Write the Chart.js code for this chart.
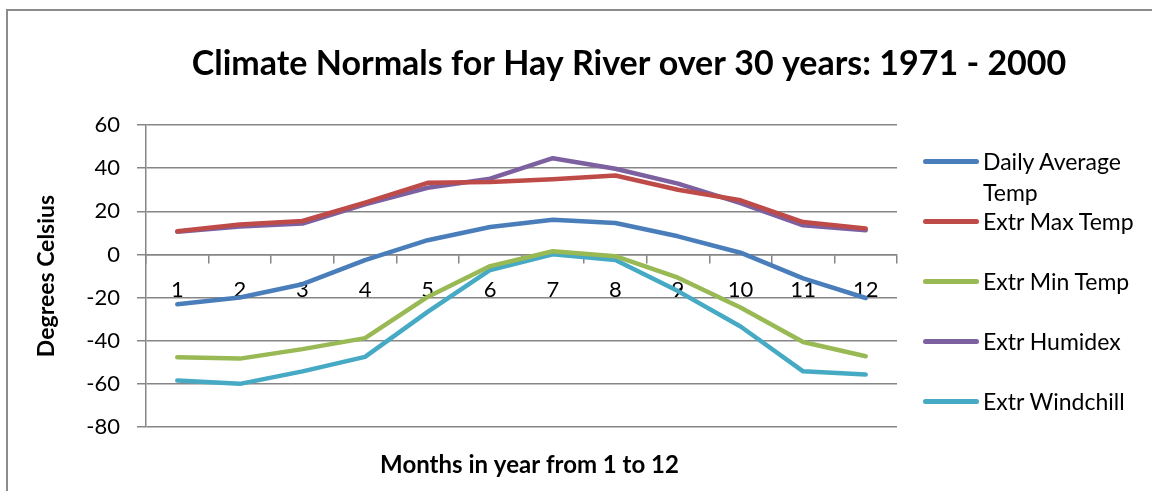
<!DOCTYPE html>
<html>
<head>
<meta charset="utf-8">
<script src="https://cdn.jsdelivr.net/npm/chart.js@4.4.1/dist/chart.umd.min.js"></script>
<style>
    body { margin: 0; background: #fff; }
    #wrap { position: relative; width: 1152px; height: 491px; overflow: hidden; }
    #frame { position: absolute; left: 6px; top: 9px; width: 1200px; height: 600px;
             border-top: 2px solid #8c8c8c; border-left: 2px solid #8c8c8c; }
    #grafica { position: absolute; left: 0; top: 0; }
    #leyenda { position: absolute; left: 923px; top: 146px; font-family: Lato, sans-serif; font-size: 23px; color: #000; }
    .item { position: relative; height: 60px; }
    .item .muestra { position: absolute; left: 0; top: 13px; width: 56px; height: 5px; border-radius: 3px; }
    .item .texto { position: absolute; left: 60px; top: 0; width: 168px; line-height: 31px; }
</style>
</head>
<body>
<div id="wrap">
    <div id="frame"></div>
    <canvas id="grafica" width="1152" height="491"></canvas>
    <div id="leyenda"></div>
</div>
<script>
//Datos del gráfico
const meses = ['1', '2', '3', '4', '5', '6', '7', '8', '9', '10', '11', '12'];
const promedioDiario = [-23.1, -20.0, -13.8, -2.6, 6.6, 12.7, 16.1, 14.6, 8.4, 0.8, -11.1, -20.2];
const maxExtrema = [10.7, 13.9, 15.5, 24.0, 33.2, 33.6, 34.9, 36.6, 30.0, 25.1, 15.0, 12.0];
const minExtrema = [-47.7, -48.3, -43.9, -38.8, -19.7, -5.4, 1.5, -0.8, -10.8, -24.6, -40.6, -47.2];
const humidex = [10.5, 13.0, 14.3, 23.2, 30.9, 35.1, 44.6, 39.7, 32.8, 23.8, 13.5, 11.2];
const windchill = [-58.5, -60.0, -54.2, -47.5, -26.6, -7.2, 0.1, -2.6, -17.0, -33.4, -54.2, -55.7];
const yTicks = [60, 40, 20, 0, -20, -40, -60, -80];

const series = [
    { label: 'Daily Average Temp', data: promedioDiario, color: '#4a7ebb' },
    { label: 'Extr Max Temp', data: maxExtrema, color: '#be4b48' },
    { label: 'Extr Min Temp', data: minExtrema, color: '#98b954' },
    { label: 'Extr Humidex', data: humidex, color: '#7d60a0' },
    { label: 'Extr Windchill', data: windchill, color: '#46aac5' }
];

const gris = '#868686';
const fuente = 'Lato, sans-serif';

//Titulos del grafico y del eje X dibujados a mano
const titulos = {
    id: 'titulos',
    afterDraw(chart) {
        const ctx = chart.ctx;
        const area = chart.chartArea;
        ctx.save();
        ctx.fillStyle = '#000';
        ctx.textAlign = 'center';
        ctx.textBaseline = 'middle';
        ctx.font = 'bold 34px ' + fuente;
        ctx.fillText('Climate Normals for Hay River over 30 years: 1971 - 2000', 629, 64);
        ctx.font = 'bold 24px ' + fuente;
        ctx.fillText('Months in year from 1 to 12', (area.left + area.right) / 2 + 8, 465);
        ctx.restore();
    }
};

const ctx = document.getElementById('grafica').getContext('2d');
const chart = new Chart(ctx, {
    type: 'line',
    data: {
        labels: meses,
        datasets: series.map(s => ({
            label: s.label,
            data: s.data,
            borderColor: s.color,
            backgroundColor: s.color,
            borderWidth: 4.5,
            pointRadius: 0,
            tension: 0,
            borderCapStyle: 'round',
            borderJoinStyle: 'round'
        }))
    },
    options: {
        responsive: false,
        animation: false,
        layout: { padding: { left: 0, right: 255, top: 125, bottom: 64 } },
        plugins: {
            legend: { display: false },
            tooltip: { enabled: false },
            title: { display: false }
        },
        scales: {
            x: {
                type: 'category',
                offset: true,
                position: { y: 0 },
                grid: { drawOnChartArea: false, drawTicks: true, tickLength: 8, offset: true, color: gris, lineWidth: 1.5 },
                border: { color: gris, width: 1.5 },
                ticks: { color: '#000', font: { family: fuente, size: 22 }, padding: 14, maxRotation: 0 }
            },
            y: {
                min: -80,
                max: 60,
                afterFit(scale) { scale.width = 146; },
                afterBuildTicks(scale) { scale.ticks = yTicks.map(v => ({ value: v })); },
                grid: { color: gris, lineWidth: 1.5, tickLength: 9 },
                border: { color: gris, width: 1.5 },
                ticks: { color: '#000', font: { family: fuente, size: 22 }, padding: 17 },
                title: {
                    display: true,
                    text: 'Degrees Celsius',
                    color: '#000',
                    font: { family: fuente, size: 23, weight: 'bold' },
                    padding: { top: 33, bottom: 0 }
                }
            }
        }
    },
    plugins: [titulos]
});

//Leyenda HTML a partir de las series
const leyenda = document.getElementById('leyenda');
chart.data.datasets.forEach(ds => {
    const item = document.createElement('div');
    item.className = 'item';
    const muestra = document.createElement('div');
    muestra.className = 'muestra';
    muestra.style.background = ds.borderColor;
    const texto = document.createElement('div');
    texto.className = 'texto';
    texto.textContent = ds.label;
    item.appendChild(muestra);
    item.appendChild(texto);
    leyenda.appendChild(item);
});
</script>
</body>
</html>
